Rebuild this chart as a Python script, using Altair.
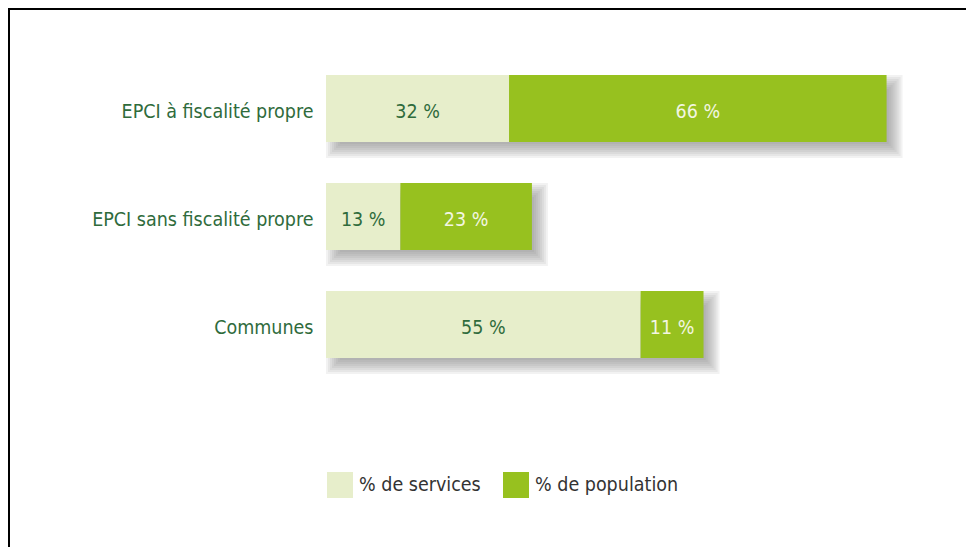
import altair as alt
import pandas as pd

categories = ["EPCI à fiscalité propre", "EPCI sans fiscalité propre", "Communes"]
services = [32, 13, 55]
population = [66, 23, 11]
series = ["% de services", "% de population"]
colors = ["#e7eecb", "#97c11f"]

FONT = "DejaVu Sans Condensed, Liberation Sans, sans-serif"
FS = 19.5
DARK = "#2f6b3c"
CREAM = "#f3f6e2"

rows = []
for c, s, p in zip(categories, services, population):
    rows.append(dict(cat=c, serie=series[0], start=0, end=s, label=f"{s} %"))
    rows.append(dict(cat=c, serie=series[1], start=s, end=s + p, label=f"{p} %"))
df = pd.DataFrame(rows)
df["mid"] = (df["start"] + df["end"]) / 2

tot = pd.DataFrame(dict(cat=categories, zero=[0] * 3,
                        total=[s + p for s, p in zip(services, population)]))

xs = alt.Scale(domain=[0, 100], nice=False)
ys = alt.Scale(domain=categories, paddingInner=0, paddingOuter=0)
yenc = alt.Y("cat:N", scale=ys, sort=categories,
             axis=alt.Axis(title=None, ticks=False, domain=False, labelPadding=13,
                           labelFontSize=FS, labelFont=FONT, labelColor=DARK, labelLimit=0,
                           labelBaseline="middle", labelOffset=3))

shadows = []
for s in [-8, -6, -4, -2, 0, 2, 4, 6, 8]:
    shadows.append(
        alt.Chart(tot).mark_bar(color="#777777", opacity=0.095, size=67 + 2 * s,
                                xOffset=8 - s, x2Offset=8 + s, yOffset=8)
        .encode(x=alt.X("zero:Q", scale=xs, axis=None), x2="total:Q", y=yenc)
    )

bars = alt.Chart(df).mark_bar(size=67).encode(
    x=alt.X("start:Q", scale=xs, axis=None),
    x2="end:Q",
    y=yenc,
    color=alt.Color("serie:N", scale=alt.Scale(domain=series, range=colors),
                    legend=alt.Legend(title=None, orient="none", legendX=1, legendY=417.5,
                                      direction="horizontal", symbolType="square",
                                      symbolSize=676, symbolStrokeWidth=0,
                                      labelFontSize=FS, labelFont=FONT, labelColor="#333333",
                                      labelOffset=6, columnPadding=22, symbolOpacity=1,
                                      labelLimit=0)),
)

texts = alt.Chart(df).mark_text(fontSize=FS, font=FONT, baseline="middle", dy=3).encode(
    x=alt.X("mid:Q", scale=xs, axis=None),
    y=yenc,
    text="label:N",
    color=alt.condition(alt.datum.serie == series[0], alt.value(DARK), alt.value(CREAM)),
)

frame_data = alt.Data(values=[{"k": 1}])
left_rule = alt.Chart(frame_data).mark_rule(color="black", strokeWidth=2).encode(
    x=alt.value(-317), y=alt.value(-46.5), y2=alt.value(600))
top_rule = alt.Chart(frame_data).mark_rule(color="black", strokeWidth=2).encode(
    x=alt.value(-318), x2=alt.value(700), y=alt.value(-45.5))

chart = alt.layer(*shadows, bars, texts, left_rule, top_rule).properties(
    width=572, height=324,
    padding={"left": 318, "top": 46.5, "right": 68, "bottom": 168.5},
    autosize=alt.AutoSizeParams(type="none"),
    background="white",
).configure_view(strokeWidth=0, stroke=None)

chart.save("out.html", embed_options={"renderer": "svg", "actions": False})
